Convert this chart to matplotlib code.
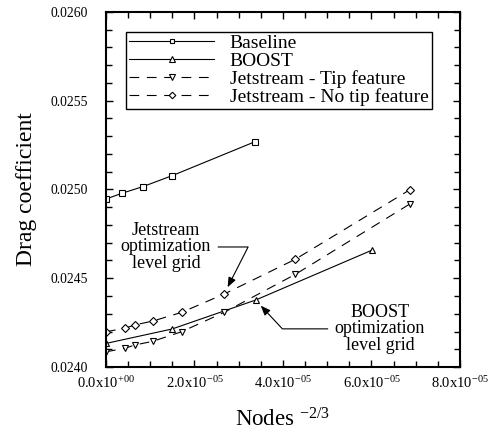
"""Drag coefficient grid convergence for the baseline, BOOST and Jetstream grids."""

import matplotlib

matplotlib.use("Agg")
import matplotlib.pyplot as plt
from matplotlib.ticker import FuncFormatter, MultipleLocator

# Nodes^(-2/3) and drag coefficient for each grid family
baseline_x = [0.0, 3.68e-6, 8.36e-6, 1.50e-5, 3.37e-5]
baseline_cd = [0.024946, 0.024979, 0.025016, 0.025078, 0.025269]

boost_x = [0.0, 1.49e-5, 3.38e-5, 6.02e-5]
boost_cd = [0.024133, 0.024214, 0.024377, 0.024659]

jet_x = [0.0, 4.2e-6, 6.5e-6, 1.06e-5, 1.71e-5, 2.67e-5, 4.28e-5, 6.86e-5]
jet_tip_cd = [0.024086, 0.024105, 0.024124, 0.024145, 0.024199, 0.024308, 0.024522, 0.024917]
jet_notip_cd = [0.024199, 0.024218, 0.024237, 0.024259, 0.024308, 0.024411, 0.024607, 0.024997]

plt.rcParams["font.family"] = ["Liberation Serif", "DejaVu Serif"]
plt.rcParams["mathtext.fontset"] = "custom"
plt.rcParams["mathtext.rm"] = "Liberation Serif"
plt.rcParams["lines.scale_dashes"] = False

fig = plt.figure(figsize=(4.93, 4.38), dpi=100)
ax = fig.add_axes([0.215, 0.162, 0.718, 0.811])

dash = (0, (7, 5.5))
common = dict(color="black", linewidth=0.8, markerfacecolor="white", markeredgecolor="black",
              markeredgewidth=0.8)
ax.plot(baseline_x, baseline_cd, linestyle="-", marker="s", markersize=4.2, label="Baseline", **common)
ax.plot(boost_x, boost_cd, linestyle="-", marker="^", markersize=5, label="BOOST", **common)
ax.plot(jet_x, jet_tip_cd, linestyle=dash, marker="v", markersize=5, label="Jetstream - Tip feature", **common)
ax.plot(jet_x, jet_notip_cd, linestyle=dash, marker="D", markersize=4.2, label="Jetstream - No tip feature", **common)

ax.set_xlim(0, 8e-5)
ax.set_ylim(0.0240, 0.0260)
ax.xaxis.set_major_locator(MultipleLocator(2e-5))
ax.xaxis.set_minor_locator(MultipleLocator(0.5e-5))
ax.yaxis.set_major_locator(MultipleLocator(0.0005))
ax.yaxis.set_minor_locator(MultipleLocator(0.0001))


def sci_label(v, pos):
    if abs(v) < 1e-12:
        return r"$\mathregular{0.0x10^{+00}}$"
    m, e = f"{v:.1e}".split("e")
    return r"$\mathregular{%sx10^{%s%02d}}$" % (m, "-" if int(e) < 0 else "+", abs(int(e)))


ax.xaxis.set_major_formatter(FuncFormatter(sci_label))
ax.yaxis.set_major_formatter(FuncFormatter(lambda v, pos: f"{v:.4f}"))

ax.tick_params(which="both", direction="in", top=True, right=True, width=1.0)
ax.tick_params(which="major", length=5)
ax.tick_params(which="minor", length=4)
ax.tick_params(axis="y", pad=13, labelsize=9.8)
ax.tick_params(axis="x", pad=6, labelsize=10.5)
for s in ax.spines.values():
    s.set_linewidth(1.5)

ax.set_xlabel(r"Nodes $\mathregular{^{-2/3}}$", fontsize=16.5, labelpad=12)
ax.set_ylabel("Drag coefficient", fontsize=17, labelpad=10)

leg = ax.legend(loc="upper left", bbox_to_anchor=(0.056, 0.944), borderaxespad=0, fontsize=14,
                frameon=True, fancybox=False, edgecolor="black", framealpha=1, handlelength=4.4,
                handletextpad=0.8, labelspacing=0.0, borderpad=0.15, markerscale=0.8)
leg.get_frame().set_linewidth(1.0)

arrow = dict(arrowstyle="-|>,head_length=0.45,head_width=0.18", color="black", linewidth=0.8,
             shrinkA=3, shrinkB=5.5)
ax.annotate("Jetstream\noptimization\nlevel grid", xy=(jet_x[5], jet_notip_cd[5]),
            xytext=(1.356e-5, 0.024676), ha="center", va="center", fontsize=13, linespacing=0.95,
            arrowprops=dict(arrow, connectionstyle="angle,angleA=0,angleB=63,rad=0", relpos=(1, 0.5)))
ax.annotate("BOOST\noptimization\nlevel grid", xy=(boost_x[2], boost_cd[2]),
            xytext=(6.19e-5, 0.024215), ha="center", va="center", fontsize=13, linespacing=0.95,
            arrowprops=dict(arrow, connectionstyle="angle,angleA=180,angleB=-47,rad=0", relpos=(0, 0.5)))

fig.savefig("out.png", dpi=100)
